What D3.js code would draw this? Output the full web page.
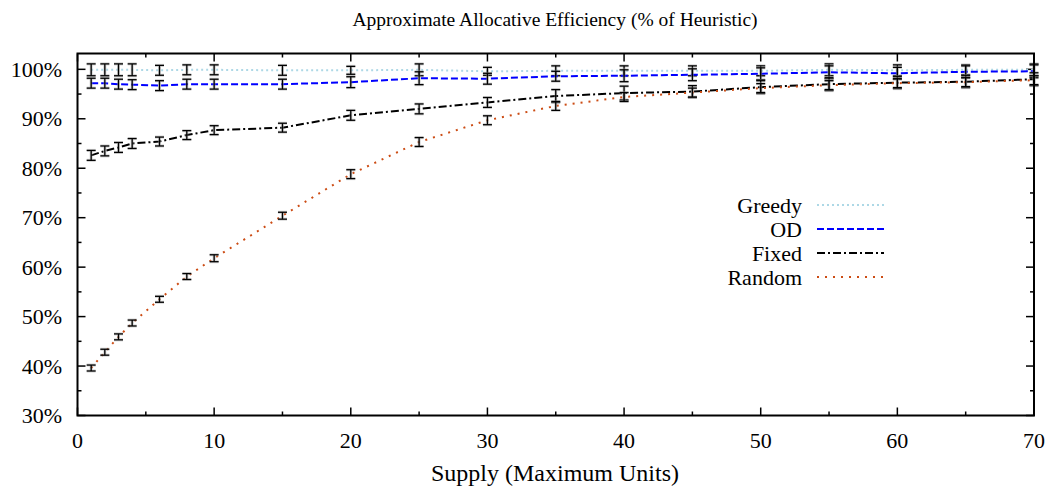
<!DOCTYPE html>
<html>
<head>
<meta charset="utf-8">
<script src="https://cdn.jsdelivr.net/npm/d3@7"></script>
<style>
  body { margin: 0; background: #fff; }
</style>
</head>
<body>
<div id="chart"></div>
<script>
// Supply values (x) shared by every series
const supply = [1, 2, 3, 4, 6, 8, 10, 15, 20, 25, 30, 35, 40, 45, 50, 55, 60, 65, 70];

// Mean efficiency (% of heuristic) and error half-widths
const greedyMean = [99.9, 99.9, 99.9, 99.9, 99.8, 99.9, 99.9, 99.8, 99.8, 99.9, 99.6, 99.7, 99.7, 99.7, 99.7, 99.9, 99.8, 99.9, 99.9];
const greedyErr  = [1.2, 1.2, 1.2, 1.2, 1.0, 1.0, 1.0, 1.0, 0.8, 1.2, 0.8, 1.0, 1.0, 1.0, 1.0, 1.2, 1.1, 1.0, 1.2];

const odMean = [97.2, 97.2, 97.0, 96.9, 96.7, 97.0, 97.0, 97.0, 97.4, 98.2, 98.1, 98.6, 98.7, 98.9, 99.1, 99.4, 99.2, 99.5, 99.6];
const odErr  = [1.0, 1.0, 1.0, 1.0, 1.0, 1.0, 1.0, 1.0, 1.1, 1.3, 1.1, 1.0, 1.2, 1.2, 1.2, 1.3, 1.2, 1.2, 1.3];

const fixedMean = [82.6, 83.5, 84.2, 85.0, 85.4, 86.7, 87.7, 88.2, 90.7, 92.0, 93.3, 94.6, 95.2, 95.5, 96.4, 97.0, 97.3, 97.5, 98.0];
const fixedErr  = [1.0, 1.0, 1.0, 1.0, 0.9, 0.9, 0.9, 0.9, 1.0, 1.0, 1.0, 1.3, 1.4, 1.2, 1.3, 1.3, 1.2, 1.2, 1.3];

const randomMean = [39.6, 42.8, 45.9, 48.7, 53.5, 58.1, 61.8, 70.4, 78.8, 85.3, 89.7, 92.6, 94.4, 95.3, 96.2, 96.8, 97.2, 97.4, 97.8];
const randomErr  = [0.6, 0.6, 0.6, 0.6, 0.6, 0.6, 0.7, 0.7, 0.9, 0.9, 0.9, 0.9, 0.9, 0.9, 0.9, 0.9, 0.9, 0.9, 0.9];

const xTicks = [0, 10, 20, 30, 40, 50, 60, 70];
const yTicks = [30, 40, 50, 60, 70, 80, 90, 100];

const series = [
  { name: 'Greedy', mean: greedyMean, err: greedyErr, color: '#add8e6', dash: '2,3' },
  { name: 'OD',     mean: odMean,     err: odErr,     color: '#0000ff', dash: '7,3' },
  { name: 'Fixed',  mean: fixedMean,  err: fixedErr,  color: '#000000', dash: '8,3,2,3' },
  { name: 'Random', mean: randomMean, err: randomErr, color: '#cc4c14', dash: '2,6' }
];

const width = 1051, height = 487;
const margin = { top: 53.5, right: 17, bottom: 71.5, left: 77.5 };
const innerW = width - margin.left - margin.right;
const innerH = height - margin.top - margin.bottom;

const svg = d3.select('#chart').append('svg')
  .attr('width', width)
  .attr('height', height)
  .style('font-family', '"Liberation Serif", "Times New Roman", serif');

const x = d3.scaleLinear().domain([0, 70]).range([margin.left, margin.left + innerW]);
const y = d3.scaleLinear().domain([30, 103.2]).range([margin.top + innerH, margin.top]);

const fontSize = 22;

// Title
svg.append('text')
  .attr('x', 555).attr('y', 26)
  .attr('text-anchor', 'middle')
  .style('font-size', '19.5px')
  .text('Approximate Allocative Efficiency (% of Heuristic)');

// X label
svg.append('text')
  .attr('x', 555).attr('y', 481)
  .attr('text-anchor', 'middle')
  .style('font-size', '24px')
  .text('Supply (Maximum Units)');

// Ticks (inward, mirrored on top/right like gnuplot)
const tickG = svg.append('g').attr('stroke', '#000').attr('stroke-width', 1.5);
const xMinor = d3.range(0, 71, 5);
const yMinor = d3.range(30, 103, 5);

xMinor.forEach(v => {
  const len = v % 10 === 0 ? 8 : 4;
  tickG.append('line').attr('x1', x(v)).attr('x2', x(v)).attr('y1', y(30)).attr('y2', y(30) - len);
  tickG.append('line').attr('x1', x(v)).attr('x2', x(v)).attr('y1', margin.top).attr('y2', margin.top + len);
});
yMinor.forEach(v => {
  const len = v % 10 === 0 ? 8 : 4;
  tickG.append('line').attr('y1', y(v)).attr('y2', y(v)).attr('x1', x(0)).attr('x2', x(0) + len);
  tickG.append('line').attr('y1', y(v)).attr('y2', y(v)).attr('x1', x(70)).attr('x2', x(70) - len);
});

svg.append('g').selectAll('text')
  .data(xTicks).enter().append('text')
  .attr('x', d => x(d))
  .attr('y', 448)
  .attr('text-anchor', 'middle')
  .style('font-size', fontSize + 'px')
  .text(d => d);

svg.append('g').selectAll('text')
  .data(yTicks).enter().append('text')
  .attr('x', 62)
  .attr('y', d => y(d))
  .attr('dy', '0.35em')
  .attr('text-anchor', 'end')
  .style('font-size', fontSize + 'px')
  .text(d => d + '%');

// Series lines
const line = d3.line()
  .x(d => x(d[0]))
  .y(d => y(d[1]));

series.forEach(s => {
  const pts = supply.map((v, i) => [v, s.mean[i]]);
  svg.append('path')
    .datum(pts)
    .attr('fill', 'none')
    .attr('stroke', s.color)
    .attr('stroke-width', 2)
    .attr('stroke-dasharray', s.dash)
    .attr('d', line);

  // Error bars
  const eb = svg.append('g');
  supply.forEach((v, i) => {
    const cx = x(v);
    const y0 = y(s.mean[i] - s.err[i]);
    const y1 = y(s.mean[i] + s.err[i]);
    const cap = 4.5;
    [['#999', 3, 0.45], ['#000', 1.3, 1]].forEach(([col, w, op]) => {
      const g = eb.append('g').attr('stroke', col).attr('stroke-width', w).attr('opacity', op);
      g.append('line').attr('x1', cx).attr('x2', cx).attr('y1', y0).attr('y2', y1);
      g.append('line').attr('x1', cx - cap).attr('x2', cx + cap).attr('y1', y0).attr('y2', y0);
      g.append('line').attr('x1', cx - cap).attr('x2', cx + cap).attr('y1', y1).attr('y2', y1);
    });
  });
});

// Frame
svg.append('rect')
  .attr('x', margin.left).attr('y', margin.top)
  .attr('width', innerW).attr('height', innerH)
  .attr('fill', 'none')
  .attr('stroke', '#000')
  .attr('stroke-width', 2);

// Legend
const legend = svg.append('g');
series.forEach((s, i) => {
  const ly = 205 + i * 24;
  legend.append('text')
    .attr('x', 802).attr('y', ly)
    .attr('dy', '0.35em')
    .attr('text-anchor', 'end')
    .style('font-size', fontSize + 'px')
    .text(s.name);
  legend.append('line')
    .attr('x1', 817).attr('x2', 884)
    .attr('y1', ly).attr('y2', ly)
    .attr('stroke', s.color)
    .attr('stroke-width', 2)
    .attr('stroke-dasharray', s.dash);
});
</script>
</body>
</html>
